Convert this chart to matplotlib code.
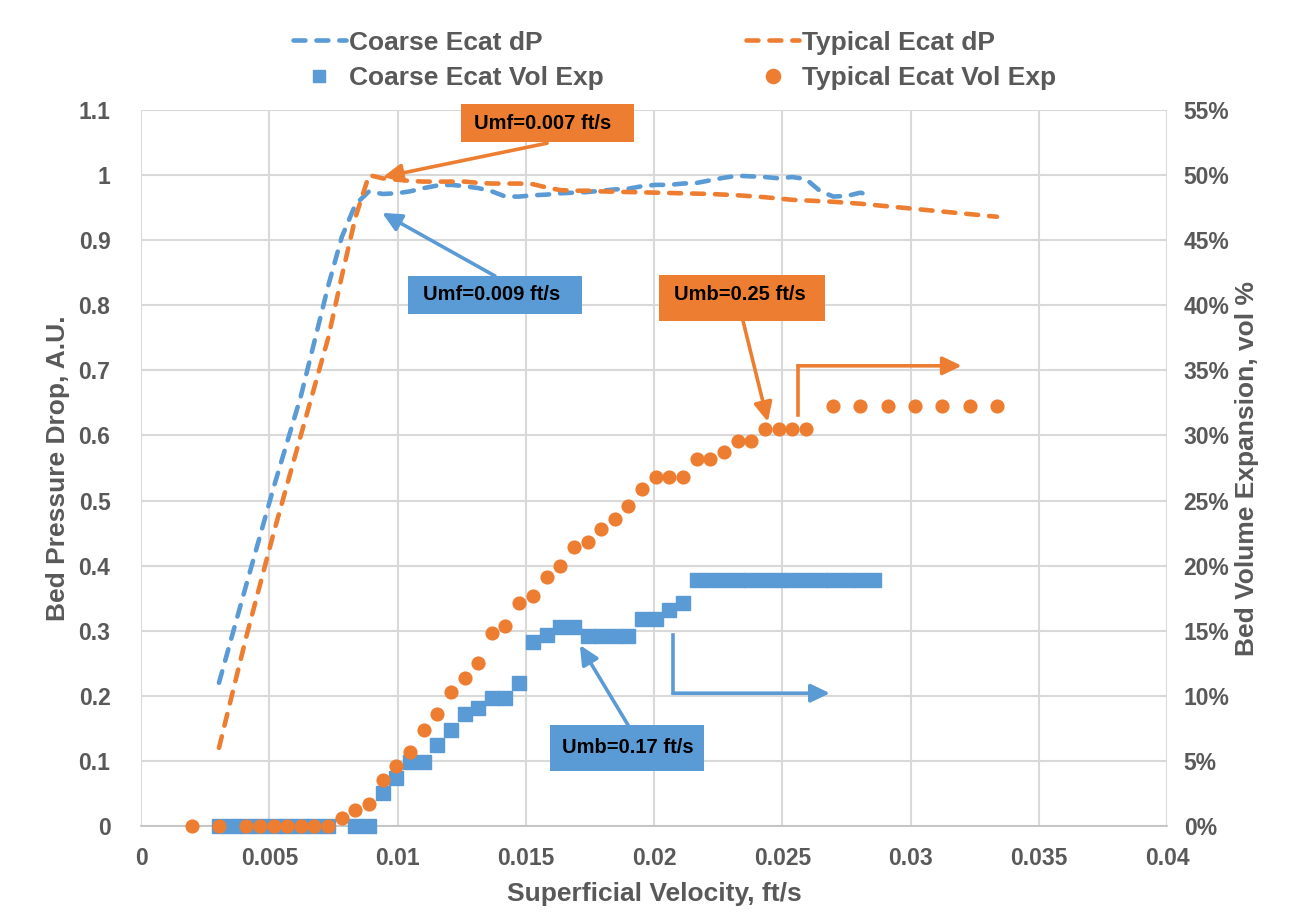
import matplotlib
matplotlib.use("Agg")
import matplotlib.pyplot as plt
from matplotlib.lines import Line2D
from matplotlib.patches import Rectangle

plt.rcParams['font.family'] = ['Liberation Sans', 'DejaVu Sans']
plt.rcParams['font.weight'] = 'bold'

BLUE = '#5B9BD5'
ORANGE = '#ED7D31'
GRID = '#D9D9D9'
TXT = '#595959'

# ---------------- data ----------------
coarse_dp_x = [0.00304, 0.00410, 0.00517, 0.00623, 0.00730, 0.00783, 0.00836, 0.00889,
               0.00942, 0.00996, 0.01049, 0.01102, 0.01155, 0.01209, 0.01262, 0.01315,
               0.01368, 0.01421, 0.01475, 0.01528, 0.01581, 0.01634, 0.01688, 0.01741,
               0.01794, 0.01847, 0.01900, 0.01954, 0.02007, 0.02060, 0.02113, 0.02167,
               0.02220, 0.02273, 0.02326, 0.02379, 0.02433, 0.02486, 0.02539, 0.02592,
               0.02646, 0.02699, 0.02752, 0.02805, 0.02840]
coarse_dp = [0.22, 0.37, 0.52, 0.66, 0.83, 0.905, 0.955, 0.975,
             0.971, 0.972, 0.975, 0.980, 0.984, 0.985, 0.983, 0.980,
             0.975, 0.967, 0.967, 0.969, 0.970, 0.972, 0.973, 0.974,
             0.976, 0.978, 0.979, 0.983, 0.985, 0.985, 0.987, 0.988,
             0.992, 0.996, 0.999, 0.998, 0.997, 0.995, 0.997, 0.994,
             0.976, 0.967, 0.968, 0.973, 0.969]

typical_dp_x = [0.00304, 0.00410, 0.00517, 0.00623, 0.00730, 0.00783, 0.00836, 0.00889,
                0.00942, 0.00996, 0.01049, 0.01102, 0.01155, 0.01209, 0.01262, 0.01315,
                0.01368, 0.01421, 0.01475, 0.01528, 0.01581, 0.01634, 0.01688, 0.01741,
                0.01794, 0.01900, 0.02007, 0.02113, 0.02220, 0.02326, 0.02433, 0.02539,
                0.02699, 0.02805, 0.02912, 0.03018, 0.03124, 0.03231, 0.03337]
typical_dp = [0.12, 0.29, 0.45, 0.60, 0.75, 0.845, 0.935, 1.0,
              0.995, 0.993, 0.991, 0.990, 0.990, 0.990, 0.990, 0.988,
              0.987, 0.987, 0.987, 0.986, 0.981, 0.977, 0.976, 0.976,
              0.975, 0.974, 0.973, 0.972, 0.971, 0.969, 0.966, 0.962,
              0.959, 0.956, 0.952, 0.948, 0.944, 0.940, 0.936]

coarse_vol_x = [0.00304, 0.00357, 0.00410, 0.00463, 0.00517, 0.00570, 0.00623, 0.00676,
                0.00730, 0.00836, 0.00889, 0.00942, 0.00996, 0.01049, 0.01102, 0.01155,
                0.01209, 0.01262, 0.01315, 0.01368, 0.01421, 0.01475, 0.01528, 0.01581,
                0.01634, 0.01688, 0.01741, 0.01794, 0.01847, 0.01900, 0.01954, 0.02007,
                0.02060, 0.02113, 0.02167, 0.02220, 0.02273, 0.02326, 0.02379, 0.02433,
                0.02486, 0.02539, 0.02592, 0.02646, 0.02699, 0.02752, 0.02805, 0.02858]
coarse_vol = [0, 0, 0, 0, 0, 0, 0, 0,
              0, 0, 0, 2.5, 3.7, 4.9, 4.9, 6.2,
              7.4, 8.6, 9.1, 9.8, 9.8, 11.0, 14.1, 14.7,
              15.3, 15.3, 14.6, 14.6, 14.6, 14.6, 15.9, 15.9,
              16.6, 17.1, 18.9, 18.9, 18.9, 18.9, 18.9, 18.9,
              18.9, 18.9, 18.9, 18.9, 18.9, 18.9, 18.9, 18.9]

typical_vol_x = [0.00198, 0.00304, 0.00410, 0.00463, 0.00517, 0.00570, 0.00623, 0.00676,
                 0.00730, 0.00783, 0.00836, 0.00889, 0.00942, 0.00996, 0.01049, 0.01102,
                 0.01155, 0.01209, 0.01262, 0.01315, 0.01368, 0.01421, 0.01475, 0.01528,
                 0.01581, 0.01634, 0.01688, 0.01741, 0.01794, 0.01847, 0.01900, 0.01954,
                 0.02007, 0.02060, 0.02113, 0.02167, 0.02220, 0.02273, 0.02326, 0.02379,
                 0.02433, 0.02486, 0.02539, 0.02592, 0.02699, 0.02805, 0.02912, 0.03018,
                 0.03124, 0.03231, 0.03337]
typical_vol = [0, 0, 0, 0, 0, 0, 0, 0,
               0, 0.6, 1.2, 1.7, 3.5, 4.6, 5.7, 7.4,
               8.6, 10.3, 11.4, 12.5, 14.8, 15.4, 17.1, 17.7,
               19.1, 20.0, 21.4, 21.8, 22.8, 23.6, 24.6, 25.9,
               26.8, 26.8, 26.8, 28.2, 28.2, 28.7, 29.6, 29.6,
               30.5, 30.5, 30.5, 30.5, 32.3, 32.3, 32.3, 32.3,
               32.3, 32.3, 32.3]

x_ticks = [0, 0.005, 0.01, 0.015, 0.02, 0.025, 0.03, 0.035, 0.04]
x_labels = ['0', '0.005', '0.01', '0.015', '0.02', '0.025', '0.03', '0.035', '0.04']
y_ticks = [0, 0.1, 0.2, 0.3, 0.4, 0.5, 0.6, 0.7, 0.8, 0.9, 1.0, 1.1]
y_labels = ['0', '0.1', '0.2', '0.3', '0.4', '0.5', '0.6', '0.7', '0.8', '0.9', '1', '1.1']
y2_ticks = [0, 5, 10, 15, 20, 25, 30, 35, 40, 45, 50, 55]
y2_labels = [f'{v}%' for v in y2_ticks]

# ---------------- figure ----------------
fig = plt.figure(figsize=(12.98, 9.24), dpi=100)
ax = fig.add_axes([141/1298, 1-826/924, (1167-141)/1298, (826-110)/924])
ax2 = ax.twinx()

ax.set_xlim(0, 0.04)
ax.set_ylim(0, 1.1)
ax2.set_ylim(0, 55)

ax.set_xticks(x_ticks)
ax.set_xticklabels(x_labels)
ax.set_yticks(y_ticks)
ax.set_yticklabels(y_labels)
ax2.set_yticks(y2_ticks)
ax2.set_yticklabels(y2_labels)

TICK_FS = 16.5
LAB_FS = 19
LEG_FS = 19
for a in (ax, ax2):
    for s in a.spines.values():
        s.set_visible(False)
ax.spines['bottom'].set_visible(True)
ax.spines['bottom'].set_color('#BFBFBF')
ax.spines['bottom'].set_linewidth(1.2)

ax.tick_params(axis='x', length=0, pad=15, labelsize=TICK_FS, labelcolor=TXT)
ax.tick_params(axis='y', length=0, pad=22, labelsize=TICK_FS, labelcolor=TXT)
ax2.tick_params(axis='y', length=0, pad=12, labelsize=TICK_FS, labelcolor=TXT)
for lab in ax.get_xticklabels() + ax.get_yticklabels() + ax2.get_yticklabels():
    lab.set_fontweight('bold')

ax.grid(True, color=GRID, linewidth=1.5)
ax.set_axisbelow(True)

ax.set_xlabel('Superficial Velocity, ft/s', fontsize=LAB_FS, fontweight='bold', color=TXT, labelpad=9)
ax.set_ylabel('Bed Pressure Drop, A.U.', fontsize=LAB_FS, fontweight='bold', color=TXT, labelpad=6)
ax2.set_ylabel('Bed Volume Expansion, vol %', fontsize=LAB_FS, fontweight='bold', color=TXT, labelpad=4)

LW = 3.3
dash = (2.6, 2.4)
l1, = ax.plot(coarse_dp_x, coarse_dp, color=BLUE, lw=LW, dashes=dash,
              dash_capstyle='round', solid_capstyle='round', dash_joinstyle='round')
l2, = ax.plot(typical_dp_x, typical_dp, color=ORANGE, lw=LW, dashes=dash,
              dash_capstyle='round', solid_capstyle='round', dash_joinstyle='round')

SQ = 9.8
CI = 10.2
s1, = ax2.plot(coarse_vol_x, coarse_vol, linestyle='none', marker='s', ms=SQ,
               mfc=BLUE, mec=BLUE, mew=1.0, clip_on=False)
s2, = ax2.plot(typical_vol_x, typical_vol, linestyle='none', marker='o', ms=CI,
               mfc=ORANGE, mec=ORANGE, mew=0, clip_on=False)

# ---------------- annotations ----------------
ANN_FS = 14.5
ALW = 2.6
def box(x0, x1, y0, y1, color, text, tx, ty):
    r = Rectangle((x0, y0), x1 - x0, y1 - y0, facecolor=color, edgecolor='none',
                  transform=ax.transData, zorder=10, clip_on=False)
    ax2.add_patch(r)
    ax2.text(tx, ty, text, transform=ax.transData, ha='center', va='center',
             fontsize=ANN_FS, fontweight='bold', color='black', zorder=11)

def arrow(x0, y0, x1, y1, color):
    ax2.annotate('', xy=(x1, y1), xytext=(x0, y0), xycoords=ax.transData,
                 textcoords=ax.transData,
                 arrowprops=dict(arrowstyle='-|>,head_length=1.15,head_width=0.55',
                                 color=color, lw=ALW, shrinkA=0, shrinkB=0),
                 zorder=9, annotation_clip=False)

def seg(xs, ys, color):
    ax2.plot(xs, ys, color=color, lw=ALW, transform=ax.transData, zorder=9,
             solid_capstyle='projecting', clip_on=False)

# Umf typical (orange)
arrow(0.01583, 1.049, 0.00943, 0.997, ORANGE)
box(0.01248, 0.01922, 1.051, 1.109, ORANGE, 'Umf=0.007 ft/s', 0.01567, 1.080)
# Umf coarse (blue)
arrow(0.0138, 0.845, 0.0094, 0.942, BLUE)
box(0.01041, 0.01719, 0.786, 0.845, BLUE, 'Umf=0.009 ft/s', 0.01368, 0.816)
# Umb typical (orange)
arrow(0.02347, 0.776, 0.02444, 0.621, ORANGE)
box(0.0202, 0.02667, 0.776, 0.846, ORANGE, 'Umb=0.25 ft/s', 0.02335, 0.817)
seg([0.02561, 0.02561], [0.631, 0.707], ORANGE)
arrow(0.02561, 0.707, 0.0320, 0.707, ORANGE)
# Umb coarse (blue)
arrow(0.01899, 0.155, 0.01711, 0.278, BLUE)
box(0.01595, 0.02195, 0.0845, 0.155, BLUE, 'Umb=0.17 ft/s', 0.01899, 0.121)
seg([0.02074, 0.02074], [0.293, 0.204], BLUE)
arrow(0.02074, 0.204, 0.02686, 0.204, BLUE)

# ---------------- legend ----------------
h1 = Line2D([], [], color=BLUE, lw=LW, dashes=dash, dash_capstyle='round')
h2 = Line2D([], [], color=ORANGE, lw=LW, dashes=dash, dash_capstyle='round')
h3 = Line2D([], [], linestyle='none', marker='s', ms=9.3, color=BLUE)
h4 = Line2D([], [], linestyle='none', marker='o', ms=CI, color=ORANGE)
leg = fig.legend([h1, h3, h2, h4],
                 ['Coarse Ecat dP', 'Coarse Ecat Vol Exp', 'Typical Ecat dP', 'Typical Ecat Vol Exp'],
                 loc='center', bbox_to_anchor=(0.5197, 0.9345), ncol=2, frameon=False,
                 prop={'size': LEG_FS, 'weight': 'bold'}, handlelength=2.0,
                 handletextpad=0.12, columnspacing=5.4, labelspacing=0.45)
for t in leg.get_texts():
    t.set_color(TXT)

fig.savefig('out.png', dpi=100, facecolor='white')
